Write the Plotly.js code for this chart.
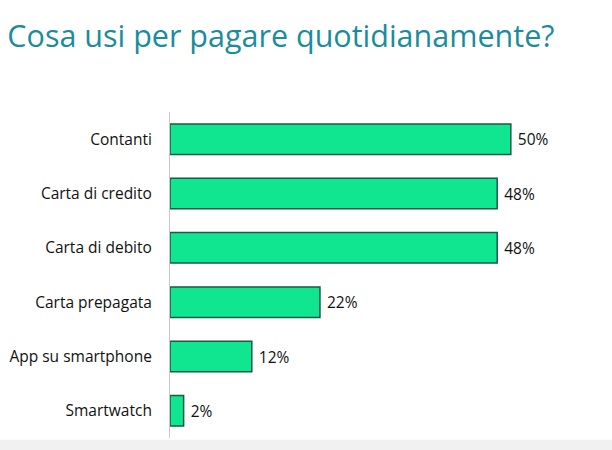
<!DOCTYPE html>
<html>
<head>
<meta charset="utf-8">
<script src="https://cdn.plot.ly/plotly-3.0.1.min.js"></script>
<style>html,body{margin:0;padding:0;background:#fff;}#chart{width:612px;height:450px;}</style>
</head>
<body>
<div id="chart"></div>
<script>
const categories = ["Contanti", "Carta di credito", "Carta di debito", "Carta prepagata", "App su smartphone", "Smartwatch"];
const values = [50, 48, 48, 22, 12, 2];
const valueLabels = ["50%", "48%", "48%", "22%", "12%", "2%"];

const trace = {
  type: "bar",
  orientation: "h",
  y: categories,
  x: values,
  text: valueLabels,
  texttemplate: "\u00a0%{text}",
  textposition: "outside",
  cliponaxis: false,
  textfont: {family: "Open Sans, sans-serif", size: 15.5, color: "#111"},
  marker: {color: "#10e68f", line: {color: "#1d5a44", width: 1.5}},
  hoverinfo: "none"
};

const layout = {
  width: 612, height: 450,
  margin: {l: 170, r: 33, t: 112, b: 12},
  paper_bgcolor: "#fff", plot_bgcolor: "#fff",
  title: {text: "Cosa usi per pagare quotidianamente?", x: 0.012, xanchor: "left", y: 0.92, yanchor: "middle",
          font: {family: "Open Sans, sans-serif", size: 30.5, color: "#1b8c9c"}},
  bargap: 0.44,
  showlegend: false,
  xaxis: {range: [0, 60], showgrid: false, zeroline: false, showticklabels: false, showline: false, fixedrange: true},
  yaxis: {autorange: "reversed", showgrid: false, zeroline: false, showline: true, linecolor: "#c8c8c8", linewidth: 1,
          ticks: "", ticklabelstandoff: 14,
          tickfont: {family: "Open Sans, sans-serif", size: 15.5, color: "#111"}},
  shapes: [{type: "rect", xref: "paper", yref: "paper", x0: -0.45, x1: 1.1, y0: -0.05, y1: -0.005,
            fillcolor: "#f1f1f1", line: {width: 0}, layer: "below"}]
};

Plotly.newPlot("chart", [trace], layout, {displayModeBar: false, staticPlot: true});
</script>
</body>
</html>
